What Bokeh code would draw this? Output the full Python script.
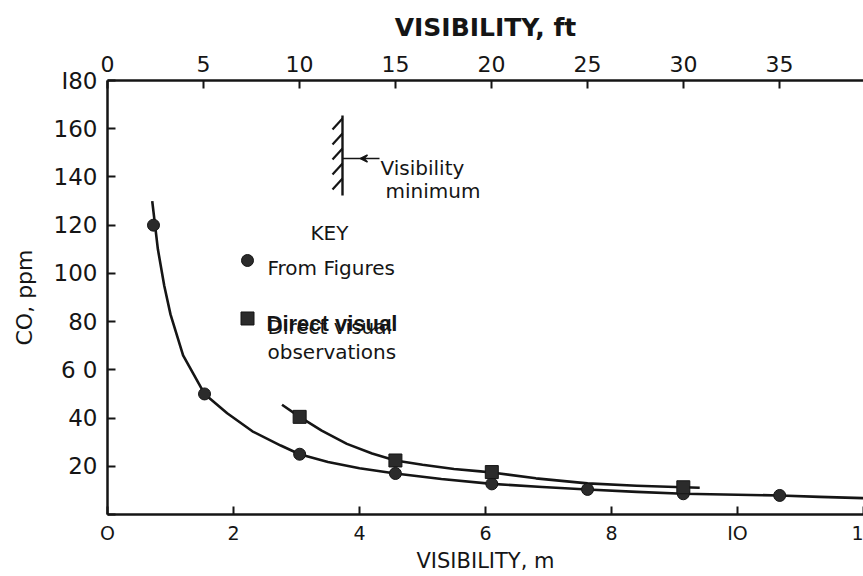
import math
from bokeh.plotting import figure
from bokeh.models import Range1d, LinearAxis, FixedTicker, Label, Arrow, VeeHead
from bokeh.embed import file_html
from bokeh.resources import INLINE

# ---------------- data ----------------
# "From Figures" points (circles): visibility in m, CO in ppm
circ_m = [0.73, 1.54, 3.05, 4.57, 6.10, 7.62, 9.14, 10.67]
circ_ppm = [120, 50, 25, 17, 12.7, 10.4, 8.6, 7.9]

# "Direct visual observations" points (squares)
sq_m = [3.05, 4.57, 6.10, 9.14]
sq_ppm = [40.5, 22.4, 17.6, 11.3]

# smooth curves drawn through the points
lo_m = [0.71, 0.80, 0.90, 1.00, 1.20, 1.54, 1.90, 2.30, 2.75, 3.05, 3.50, 4.00,
        4.57, 5.30, 6.10, 6.90, 7.62, 8.40, 9.14, 10.0, 10.67, 11.3, 12.0]
lo_ppm = [130, 110, 95, 83, 66, 50, 42, 34.5, 28.6, 25, 21.8, 19.2,
          17, 14.7, 12.7, 11.4, 10.4, 9.4, 8.6, 8.2, 7.9, 7.3, 6.8]

up_m = [2.77, 3.05, 3.40, 3.80, 4.20, 4.57, 5.00, 5.50, 5.92, 6.10, 6.80, 7.62,
        8.40, 9.14, 9.40]
up_ppm = [45.5, 40.5, 34.8, 29.3, 25.3, 22.4, 20.6, 18.9, 17.9, 17.4, 15.0, 12.9,
          11.9, 11.3, 11.1]

# axes
x_ticks_m = [0, 2, 4, 6, 8, 10, 12]
x_ticks_ft = [0, 5, 10, 15, 20, 25, 30, 35]
y_ticks = [0, 20, 40, 60, 80, 100, 120, 140, 160, 180]
X_MAX_M = 12
Y_MAX = 180
FT_PER_M = 1 / 0.3048

INK = "#151515"

p = figure(width=863, height=576, output_backend="svg", toolbar_location=None,
           x_range=Range1d(0, X_MAX_M), y_range=Range1d(0, Y_MAX),
           min_border_left=107, min_border_right=0, min_border_top=80,
           min_border_bottom=62)
p.xgrid.visible = False
p.ygrid.visible = False
p.outline_line_color = None
p.background_fill_color = "white"
p.border_fill_color = "white"

xa = p.below[0]
ya = p.left[0]

p.extra_x_ranges = {"ft": Range1d(0, X_MAX_M * FT_PER_M)}
top = LinearAxis(x_range_name="ft")
p.add_layout(top, "above")

xa.ticker = FixedTicker(ticks=x_ticks_m)
top.ticker = FixedTicker(ticks=x_ticks_ft)
ya.ticker = FixedTicker(ticks=y_ticks)
xa.major_label_overrides = {0: "O", 10: "IO", 12: "1"}
ya.major_label_overrides = {0: "", 180: "I80", 60: "6 0"}

for ax in (xa, ya, top):
    ax.axis_line_width = 2.5
    ax.axis_line_color = INK
    ax.major_tick_in = 8
    ax.major_tick_out = 0
    ax.major_tick_line_width = 2
    ax.major_tick_line_color = INK
    ax.minor_tick_line_color = None
    ax.major_label_text_font = "DejaVu Sans"
    ax.major_label_text_color = INK
    ax.axis_label_text_color = INK
    ax.axis_label_text_font = "DejaVu Sans"
    ax.axis_label_text_font_style = "normal"

ya.major_label_text_font_size = "23px"
ya.major_label_standoff = 10
top.major_label_text_font_size = "22px"
top.major_label_standoff = 9
xa.major_label_text_font_size = "19px"
xa.major_label_standoff = 7

top.axis_label = "VISIBILITY, ft"
top.axis_label_text_font_size = "25px"
top.axis_label_text_font_style = "bold"
top.axis_label_standoff = 11

ya.axis_label = "CO, ppm"
ya.axis_label_text_font_size = "22px"
ya.axis_label_standoff = 14

xa.axis_label = "VISIBILITY, m"
xa.axis_label_text_font_size = "21px"
xa.axis_label_standoff = 2

# curves
p.line(lo_m, lo_ppm, line_width=2.6, line_color=INK, line_join="round")
p.line(up_m, up_ppm, line_width=2.6, line_color=INK, line_join="round")

# points
p.scatter(circ_m, circ_ppm, marker="circle", size=12, fill_color="#2b2b2b",
          line_color=INK, line_width=1)
p.scatter(sq_m, sq_ppm, marker="square", size=13, fill_color="#2b2b2b",
          line_color=INK, line_width=1)


# helpers converting reference pixel positions (for annotations) to data units
def px_x(px):
    return (px - 107) / 63.0


def px_y(py):
    return (514 - py) / 2.411


# key markers
p.scatter([px_x(247)], [px_y(260)], marker="circle", size=12, fill_color="#2b2b2b",
          line_color=INK)
p.scatter([px_x(247)], [px_y(318)], marker="square", size=13, fill_color="#2b2b2b",
          line_color=INK)

# visibility-minimum wall symbol
wx = px_x(342)
p.segment([wx], [px_y(115)], [wx], [px_y(195)], line_width=2.4, line_color=INK)
hatch_tops = [118, 133, 148, 163, 178]
p.segment([wx] * 5, [px_y(t) for t in hatch_tops],
          [px_x(332)] * 5, [px_y(t + 11) for t in hatch_tops],
          line_width=2.2, line_color=INK)
p.segment([wx], [px_y(158)], [px_x(362)], [px_y(158)], line_width=1.5, line_color=INK)
p.add_layout(Arrow(end=VeeHead(size=7, line_color=INK, line_width=1.5),
                   x_start=px_x(379), y_start=px_y(158),
                   x_end=px_x(360), y_end=px_y(158),
                   line_color=INK, line_width=1.5))


def lab(px, py, text, size, font="DejaVu Sans", style="normal", align="left",
        baseline="alphabetic"):
    p.add_layout(Label(x=px_x(px), y=px_y(py), text=text, text_font=font,
                       text_font_size=size, text_font_style=style,
                       text_align=align, text_baseline=baseline,
                       text_color=INK))


lab(380, 168, "Visibility", "20px")
lab(385, 191, "minimum", "20px")
lab(310, 233, "KEY", "20px")
lab(267, 268, "From  Figures", "20px")
lab(267, 327, "Direct visual", "20px")
lab(266, 323, "Direct visual", "22px", font="Liberation Sans", style="bold")
lab(267, 352, "observations", "20px")

open("out.html", "w").write(file_html(p, INLINE))
